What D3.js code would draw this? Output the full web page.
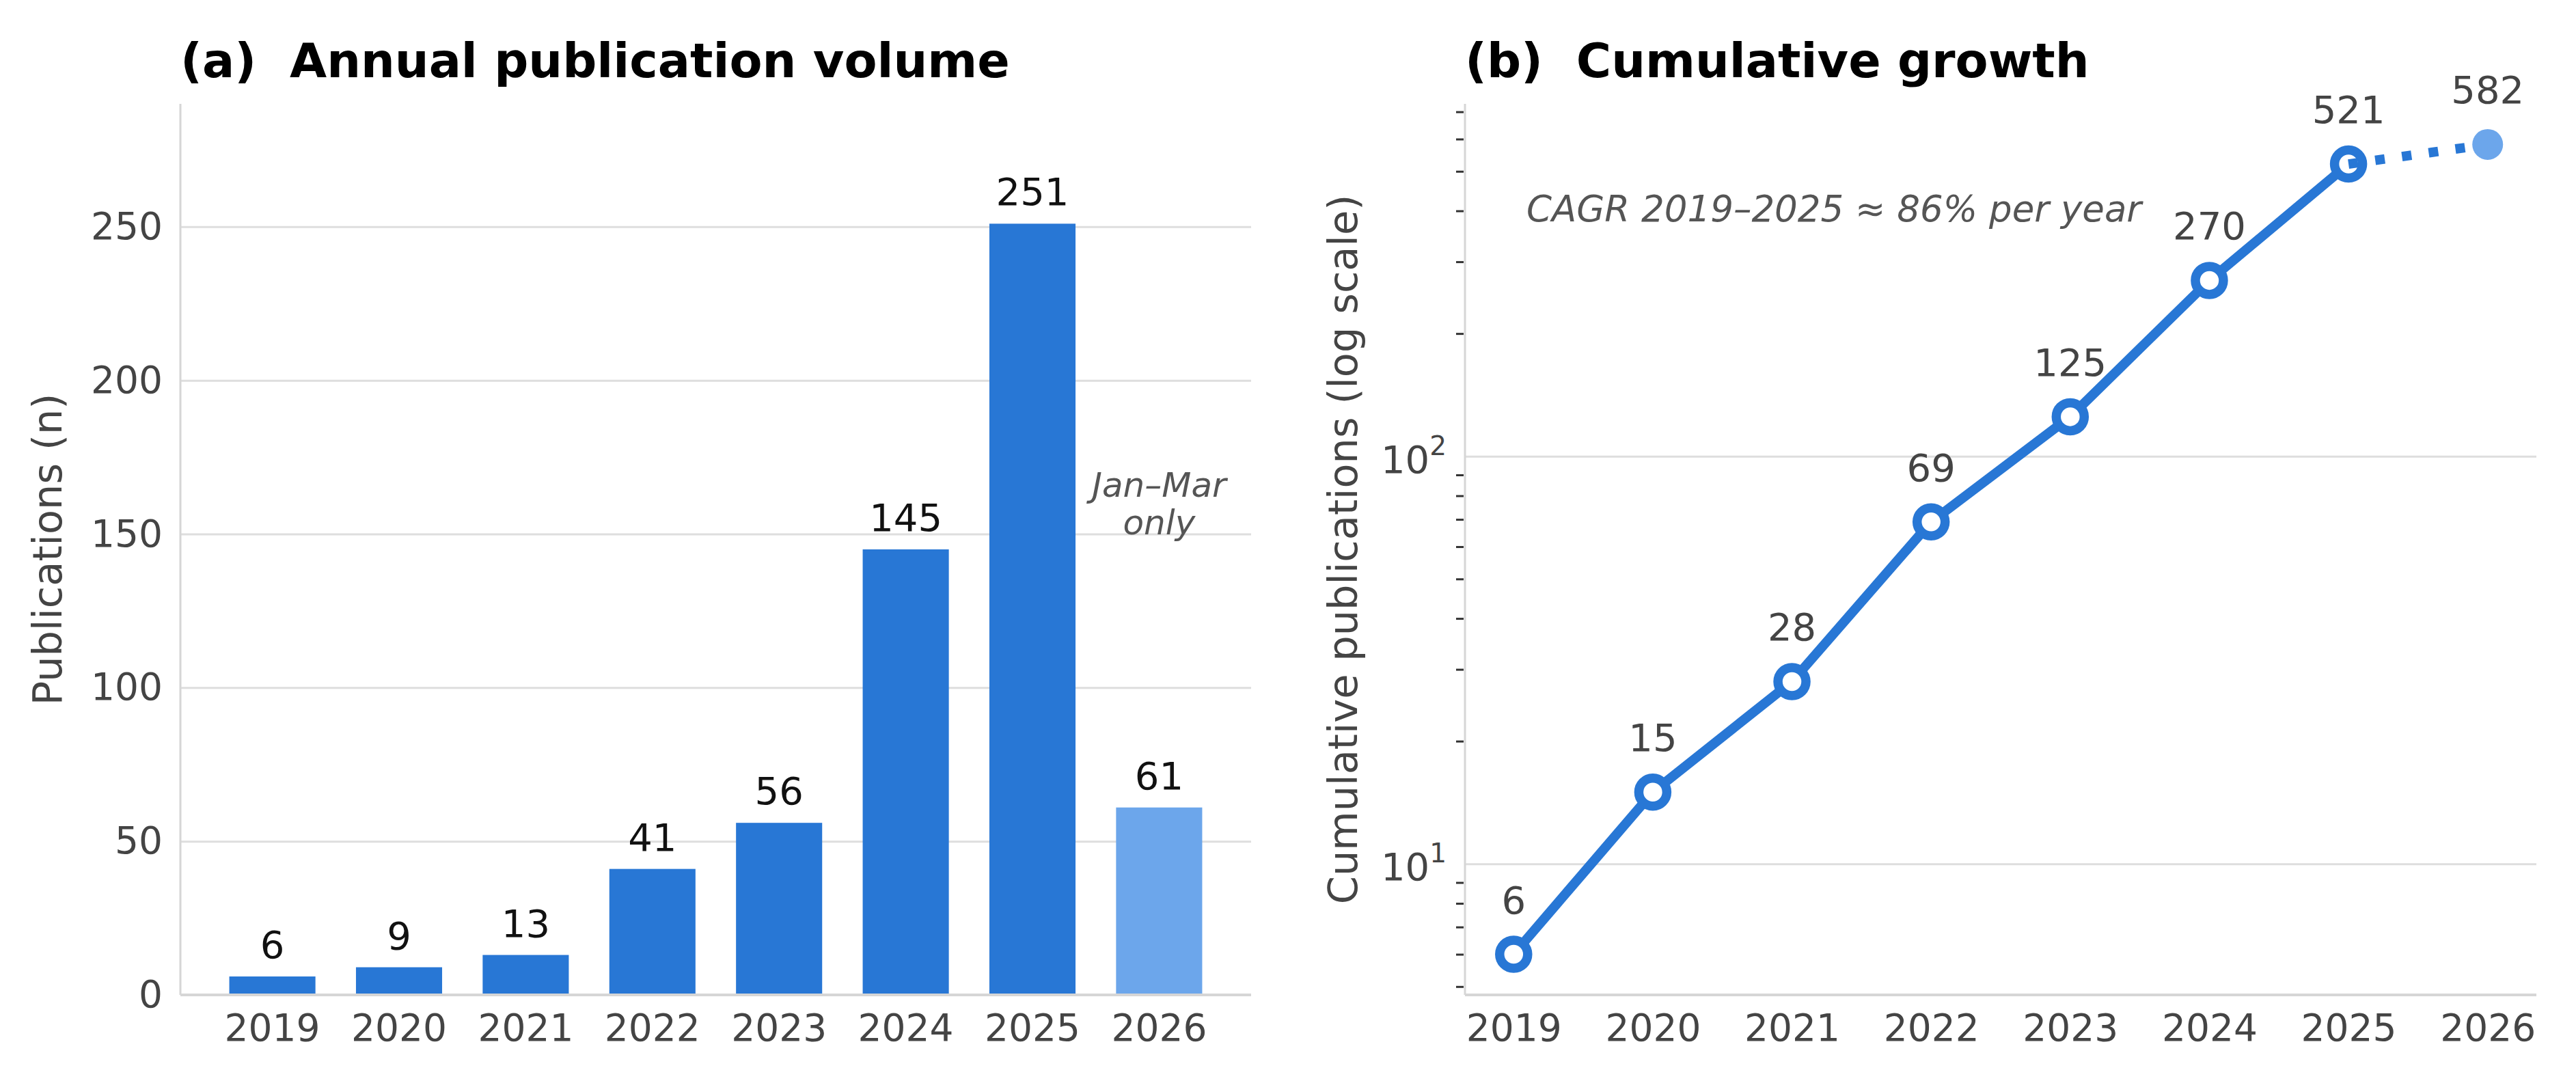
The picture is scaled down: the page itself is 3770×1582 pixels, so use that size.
<!DOCTYPE html>
<html>
<head>
<meta charset="utf-8">
<script src="https://cdn.jsdelivr.net/npm/d3@7"></script>
<style>
  body { margin: 0; background: #fff; }
  svg { display: block; font-family: "DejaVu Sans", sans-serif; }
</style>
</head>
<body>
<div id="chart"></div>
<script>
var years = ["2019", "2020", "2021", "2022", "2023", "2024", "2025", "2026"];
var annual = [6, 9, 13, 41, 56, 145, 251, 61];
var cumulative = [6, 15, 28, 69, 125, 270, 521, 582];
var partialYear = "2026";
var annualTicks = [0, 50, 100, 150, 200, 250];
var logMajor = [10, 100];
var logMinor = [5, 6, 7, 8, 9, 20, 30, 40, 50, 60, 70, 80, 90, 200, 300, 400, 500, 600, 700];

var W = 3770, H = 1582;
var blue = "#2877d5", lightBlue = "#6ca6eb", grid = "#dedede", txt = "#444";

var svg = d3.select("#chart").append("svg")
    .attr("width", W)
    .attr("height", H);

var plotTop = 152, plotBottom = 1456;

// ---------- (a) annual bars ----------
var ax = { left: 264, right: 1831 };
var x1 = d3.scaleBand().domain(years).range([ax.left, ax.right])
    .paddingInner(0.32).paddingOuter(0.386);
var y1 = d3.scaleLinear().domain([0, 290]).range([plotBottom, plotTop]);

var gA = svg.append("g");

gA.append("g")
    .attr("transform", "translate(" + ax.left + ",0)")
    .call(d3.axisLeft(y1).tickValues(annualTicks.slice(1)).tickSize(-(ax.right - ax.left)).tickFormat(""))
    .call(function (g) { g.select(".domain").remove(); })
    .selectAll("line").attr("stroke", grid).attr("stroke-width", 3);

gA.append("g")
    .attr("transform", "translate(" + ax.left + ",0)")
    .call(d3.axisLeft(y1).tickValues(annualTicks).tickSize(0).tickPadding(26))
    .call(function (g) { g.select(".domain").remove(); })
    .selectAll("text")
    .attr("font-size", 55).attr("fill", txt).attr("font-family", "DejaVu Sans");

gA.selectAll("rect.bar")
    .data(years)
    .enter().append("rect")
    .attr("class", "bar")
    .attr("x", function (d) { return x1(d); })
    .attr("width", x1.bandwidth())
    .attr("y", function (d, i) { return y1(annual[i]); })
    .attr("height", function (d, i) { return y1(0) - y1(annual[i]); })
    .attr("fill", function (d) { return d === partialYear ? lightBlue : blue; });

gA.selectAll("text.val")
    .data(years)
    .enter().append("text")
    .attr("class", "val")
    .attr("x", function (d) { return x1(d) + x1.bandwidth() / 2; })
    .attr("y", function (d, i) { return y1(annual[i]) - 27; })
    .attr("text-anchor", "middle")
    .attr("font-size", 56)
    .attr("fill", "#111")
    .text(function (d, i) { return annual[i]; });

// spines
gA.append("line").attr("x1", ax.left).attr("x2", ax.left).attr("y1", plotTop).attr("y2", plotBottom)
    .attr("stroke", "#d6d6d6").attr("stroke-width", 3);
gA.append("line").attr("x1", ax.left).attr("x2", ax.right).attr("y1", plotBottom).attr("y2", plotBottom)
    .attr("stroke", "#d6d6d6").attr("stroke-width", 4);

gA.append("g")
    .attr("transform", "translate(0," + plotBottom + ")")
    .call(d3.axisBottom(x1).tickSize(0).tickPadding(28))
    .call(function (g) { g.select(".domain").remove(); })
    .selectAll("text")
    .attr("font-size", 55).attr("fill", txt).attr("font-family", "DejaVu Sans");

var noteX = x1(partialYear) + x1.bandwidth() / 2;
gA.append("text").attr("x", noteX).attr("y", 727).attr("text-anchor", "middle")
    .attr("font-size", 50).attr("font-style", "italic").attr("fill", "#555").text("Jan–Mar");
gA.append("text").attr("x", noteX).attr("y", 782).attr("text-anchor", "middle")
    .attr("font-size", 50).attr("font-style", "italic").attr("fill", "#555").text("only");

gA.append("text")
    .attr("transform", "translate(90," + ((plotTop + plotBottom) / 2) + ") rotate(-90)")
    .attr("text-anchor", "middle")
    .attr("font-size", 59).attr("fill", txt)
    .text("Publications (n)");

gA.append("text").attr("x", ax.left).attr("y", 113)
    .attr("font-size", 70).attr("font-weight", "bold").attr("fill", "#000")
    .attr("xml:space", "preserve")
    .text("(a)  Annual publication volume");

// ---------- (b) cumulative growth ----------
var bx = { left: 2144, right: 3712 };
var x2 = d3.scaleLinear().domain([2018.65, 2026.35]).range([bx.left, bx.right]);
var y2 = d3.scaleLog().domain([4.77, 732]).range([plotBottom, plotTop]);

var gB = svg.append("g");

gB.append("g")
    .attr("transform", "translate(" + bx.left + ",0)")
    .call(d3.axisLeft(y2).tickValues(logMajor).tickSize(-(bx.right - bx.left)).tickFormat(""))
    .call(function (g) { g.select(".domain").remove(); })
    .selectAll("line").attr("stroke", grid).attr("stroke-width", 3);

gB.append("g")
    .attr("transform", "translate(" + (bx.left - 2) + ",0)")
    .call(d3.axisLeft(y2).tickValues(logMinor).tickSize(11).tickFormat(""))
    .call(function (g) { g.select(".domain").remove(); })
    .selectAll("line").attr("stroke", "#333").attr("stroke-width", 3);

var majorLbl = gB.selectAll("text.major")
    .data(logMajor)
    .enter().append("text")
    .attr("class", "major")
    .attr("x", bx.left - 27)
    .attr("y", function (d) { return y2(d) + 24; })
    .attr("text-anchor", "end")
    .attr("font-size", 56)
    .attr("fill", txt);
majorLbl.append("tspan").text("10");
majorLbl.append("tspan").attr("font-size", 39).attr("dy", -26)
    .text(function (d) { return Math.round(Math.log10(d)); });

gB.append("line").attr("x1", bx.left).attr("x2", bx.left).attr("y1", plotTop).attr("y2", plotBottom)
    .attr("stroke", "#d6d6d6").attr("stroke-width", 3);
gB.append("line").attr("x1", bx.left).attr("x2", bx.right).attr("y1", plotBottom).attr("y2", plotBottom)
    .attr("stroke", "#d6d6d6").attr("stroke-width", 4);

gB.append("g")
    .attr("transform", "translate(0," + plotBottom + ")")
    .call(d3.axisBottom(x2).tickValues(years.map(Number)).tickFormat(d3.format("d")).tickSize(0).tickPadding(28))
    .call(function (g) { g.select(".domain").remove(); })
    .selectAll("text")
    .attr("font-size", 55).attr("fill", txt).attr("font-family", "DejaVu Sans");

var pts = years.map(function (d, i) { return { year: +d, v: cumulative[i], partial: d === partialYear }; });
var solid = pts.filter(function (d) { return !d.partial; });
var last = solid[solid.length - 1];
var proj = pts.filter(function (d) { return d.partial; });

var line = d3.line()
    .x(function (d) { return x2(d.year); })
    .y(function (d) { return y2(d.v); });

gB.append("path").datum(solid)
    .attr("d", line)
    .attr("fill", "none").attr("stroke", blue).attr("stroke-width", 14)
    .attr("stroke-linejoin", "round");

gB.selectAll("circle.pt")
    .data(solid)
    .enter().append("circle")
    .attr("class", "pt")
    .attr("cx", function (d) { return x2(d.year); })
    .attr("cy", function (d) { return y2(d.v); })
    .attr("r", 20.5)
    .attr("fill", "#fff").attr("stroke", blue).attr("stroke-width", 13.5);

gB.append("path").datum([last].concat(proj))
    .attr("d", line)
    .attr("fill", "none").attr("stroke", blue).attr("stroke-width", 14)
    .attr("stroke-dasharray", "14,25.5");

gB.selectAll("circle.proj")
    .data(proj)
    .enter().append("circle")
    .attr("class", "proj")
    .attr("cx", function (d) { return x2(d.year); })
    .attr("cy", function (d) { return y2(d.v); })
    .attr("r", 22.5)
    .attr("fill", lightBlue);

gB.selectAll("text.val")
    .data(pts)
    .enter().append("text")
    .attr("class", "val")
    .attr("x", function (d) { return x2(d.year); })
    .attr("y", function (d) { return y2(d.v) - 60; })
    .attr("text-anchor", "middle")
    .attr("font-size", 56)
    .attr("fill", txt)
    .text(function (d) { return d.v; });

gB.append("text").attr("x", 2234).attr("y", 324)
    .attr("font-size", 53).attr("font-style", "italic").attr("fill", "#555")
    .text("CAGR 2019–2025 ≈ 86% per year");

gB.append("text")
    .attr("transform", "translate(1986," + ((plotTop + plotBottom) / 2) + ") rotate(-90)")
    .attr("text-anchor", "middle")
    .attr("font-size", 59).attr("fill", txt)
    .text("Cumulative publications (log scale)");

gB.append("text").attr("x", bx.left).attr("y", 113)
    .attr("font-size", 70).attr("font-weight", "bold").attr("fill", "#000")
    .attr("xml:space", "preserve")
    .text("(b)  Cumulative growth");
</script>
</body>
</html>
